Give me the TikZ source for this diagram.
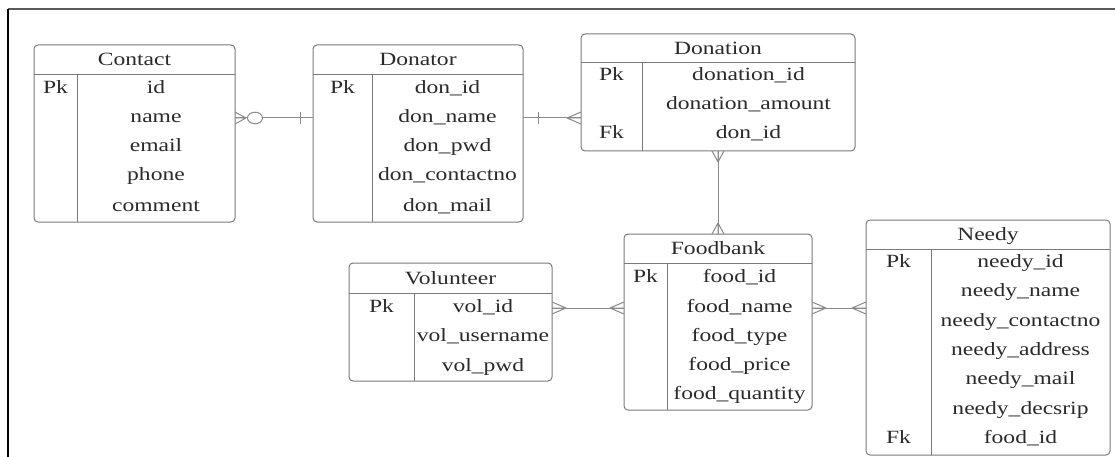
\documentclass[tikz,border=0pt]{standalone}
\usepackage{fontspec}
\setmainfont{Liberation Serif}[FakeStretch=1.26]
\usetikzlibrary{calc}
\definecolor{edge}{HTML}{7A7A7A}
\definecolor{conncol}{HTML}{8A8A8A}
\definecolor{txt}{HTML}{2A2A2A}
\newcommand\ertable[8]{% name, x1,y1,x2,y2, header y, divider x, title
  \node[tbl, minimum width={#4-#2}, minimum height={#5-#3}] (#1) at ({(#2+#4)/2},{(#3+#5)/2}) {};
  \draw[edge, line width=1pt] (#1.west |- 0,#6) -- (#1.east |- 0,#6);
  \draw[edge, line width=1pt] (#7,#6) -- (#1.south -| #7,0);
  \node[fld] (#1-title) at ({(#2+#4)/2},{(#3+#6)/2}) {#8};
}
\begin{document}
\begin{tikzpicture}[x=1pt,y=-1pt,
  tbl/.style={draw=edge, line width=1pt, rounded corners=4pt, inner sep=0pt, outer sep=0pt},
  fld/.style={font=\fontsize{18.7}{20}\selectfont, text=txt, inner sep=0pt, text height=13pt, text depth=1pt, anchor=center},
  conn/.style={draw=conncol, line width=1pt},
  crow/.pic={\draw[conn] (-14,0) -- (0,-6) (-14,0) -- (0,6) (-14,0) -- (0,0);},
  crows/.pic={\draw[conn] (-11,0) -- (0,-6) (-11,0) -- (0,6) (-11,0) -- (0,0);}
]
\useasboundingbox (0,0) rectangle (1115,457);
% frame
\draw[draw=black!65, line width=2pt] (8,9.5) -- (1115,9.5);
\draw[draw=black, line width=1.5pt] (8,9.5) -- (8,457);

% Contact
\ertable{contact}{34}{45}{235}{222}{75}{77}{Contact}
\node[fld] (contact-pk) at (55.5,88) {Pk};
\node[fld] (contact-1) at (156,88) {id};
\node[fld] (contact-2) at (156,117) {name};
\node[fld] (contact-3) at (156,146) {email};
\node[fld] (contact-4) at (156,175) {phone};
\node[fld] (contact-5) at (156,205) {comment};

% Donator
\ertable{donator}{313}{45}{523}{222}{75}{372}{Donator}
\node[fld] (donator-pk) at (342.5,88) {Pk};
\node[fld] (donator-1) at (447.5,88) {don\_id};
\node[fld] (donator-2) at (447.5,117) {don\_name};
\node[fld] (donator-3) at (447.5,146) {don\_pwd};
\node[fld] (donator-4) at (447.5,175) {don\_contactno};
\node[fld] (donator-5) at (447.5,205) {don\_mail};

% Donation
\ertable{donation}{581}{34}{855}{151}{63}{642}{Donation}
\node[fld] (donation-pk) at (611.5,75) {Pk};
\node[fld] (donation-fk) at (611.5,133) {Fk};
\node[fld] (donation-1) at (748.5,75) {donation\_id};
\node[fld] (donation-2) at (748.5,104) {donation\_amount};
\node[fld] (donation-3) at (748.5,133) {don\_id};

% Volunteer
\ertable{volunteer}{349}{263}{552}{381}{293}{414}{Volunteer}
\node[fld] (volunteer-pk) at (381.5,306) {Pk};
\node[fld] (volunteer-1) at (483,306) {vol\_id};
\node[fld] (volunteer-2) at (483,335) {vol\_username};
\node[fld] (volunteer-3) at (483,365) {vol\_pwd};

% Foodbank
\ertable{foodbank}{624}{234}{812}{410}{263}{667}{Foodbank}
\node[fld] (foodbank-pk) at (645.5,276) {Pk};
\node[fld] (foodbank-1) at (739.5,276) {food\_id};
\node[fld] (foodbank-2) at (739.5,306) {food\_name};
\node[fld] (foodbank-3) at (739.5,335) {food\_type};
\node[fld] (foodbank-4) at (739.5,364) {food\_price};
\node[fld] (foodbank-5) at (739.5,393) {food\_quantity};

% Needy
\ertable{needy}{866}{220}{1110}{455}{249}{931}{Needy}
\node[fld] (needy-pk) at (898.5,261) {Pk};
\node[fld] (needy-fk) at (898.5,437) {Fk};
\node[fld] (needy-1) at (1020.5,261) {needy\_id};
\node[fld] (needy-2) at (1020.5,290) {needy\_name};
\node[fld] (needy-3) at (1020.5,320) {needy\_contactno};
\node[fld] (needy-4) at (1020.5,349) {needy\_address};
\node[fld] (needy-5) at (1020.5,378) {needy\_mail};
\node[fld] (needy-6) at (1020.5,408) {needy\_decsrip};
\node[fld] (needy-7) at (1020.5,437) {food\_id};

% Contact -- Donator
\draw[conn] (contact.east |- 0,118) -- (donator.west |- 0,118);
\pic[rotate=180] at (contact.east |- 0,118) {crows};
\draw[conn, fill=white] ($(contact.east |- 0,118)+(20,0)$) ellipse [x radius=7.5, y radius=5.8];
\draw[conn] ($(donator.west |- 0,118)+(-13,-6)$) -- ++(0,12);

% Donator -- Donation
\draw[conn] (donator.east |- 0,118) -- (donation.west |- 0,118);
\draw[conn] ($(donator.east |- 0,118)+(15,-6)$) -- ++(0,12);
\pic at (donation.west |- 0,118) {crow};

% Donation -- Foodbank
\draw[conn] (donation.south) -- (foodbank.north);
\pic[rotate=90] at (donation.south) {crows};
\pic[rotate=-90] at (foodbank.north) {crows};

% Volunteer -- Foodbank
\draw[conn] (volunteer.east |- 0,308) -- (foodbank.west |- 0,308);
\pic[rotate=180] at (volunteer.east |- 0,308) {crow};
\pic at (foodbank.west |- 0,308) {crow};

% Foodbank -- Needy
\draw[conn] (foodbank.east |- 0,308) -- (needy.west |- 0,308);
\pic[rotate=180] at (foodbank.east |- 0,308) {crow};
\pic at (needy.west |- 0,308) {crow};
\end{tikzpicture}
\end{document}
